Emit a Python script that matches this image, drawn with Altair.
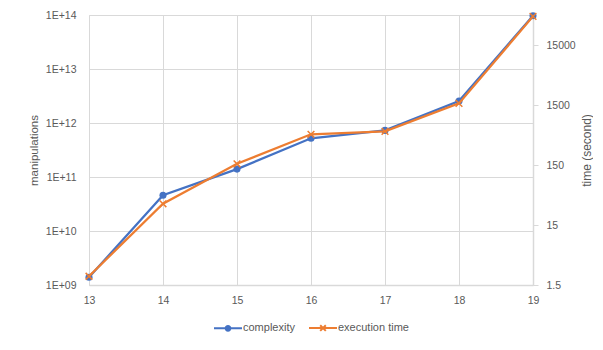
import altair as alt
import pandas as pd

n_values = [13, 14, 15, 16, 17, 18, 19]
complexity = [1.39e9, 4.6e10, 1.4e11, 5.2e11, 7.3e11, 2.55e12, 9.7e13]
exec_time = [2.1, 34, 158, 490, 550, 1610, 45500]
left_ticks = [1e9, 1e10, 1e11, 1e12, 1e13, 1e14]
right_ticks = [1.5, 15, 150, 1500, 15000]
series_names = ["complexity", "execution time"]

BLUE = "#4472C4"
ORANGE = "#ED7D31"
XPATH = "M-1,-1L1,1M-1,1L1,-1"
LEG_C = ("M-1,0L1,0"
         "M0.17,0A0.17,0.17,0,1,1,-0.17,0A0.17,0.17,0,1,1,0.17,0"
         "M0.09,0A0.09,0.09,0,1,1,-0.09,0A0.09,0.09,0,1,1,0.09,0"
         "M0.03,0A0.03,0.03,0,1,1,-0.03,0A0.03,0.03,0,1,1,0.03,0")
LEG_T = "M-1,0L1,0M-0.2,-0.2L0.2,0.2M-0.2,0.2L0.2,-0.2"
TXT = "#595959"
GRID = "#D9D9D9"

df_c = pd.DataFrame({"n": n_values, "v": complexity, "series": series_names[0]})
df_t = pd.DataFrame({"n": n_values, "v": exec_time, "series": series_names[1]})

legend = alt.Legend(
    title=None, orient="none", direction="horizontal", legendX=124, legendY=298,
    labelFontSize=11, labelColor=TXT, symbolSize=784, symbolStrokeWidth=2,
    symbolOpacity=1, labelOffset=0, columnPadding=10,
)
color = alt.Color("series:N", scale=alt.Scale(domain=series_names, range=[BLUE, ORANGE]),
                  legend=legend)
shape = alt.Shape("series:N", scale=alt.Scale(domain=series_names, range=[LEG_C, LEG_T]),
                  legend=legend)

x = alt.X("n:Q", scale=alt.Scale(domain=[13, 19], nice=False),
          axis=alt.Axis(title=None, values=n_values, format="d", grid=True, gridColor=GRID,
                        domainColor=GRID, domainWidth=1.5, ticks=False, labelColor=TXT,
                        labelFontSize=10.5, labelPadding=10, labelFlush=False))

y_left = alt.Y("v:Q", scale=alt.Scale(type="log", domain=[1e9, 1e14], nice=False),
               axis=alt.Axis(title="manipulations", orient="left", values=left_ticks,
                             labelExpr="'1E+' + (round(log(datum.value)/LN10) < 10 ? '0' : '') + round(log(datum.value)/LN10)",
                             grid=True, gridColor=GRID, domain=False, ticks=False,
                             labelColor=TXT, titleColor=TXT, labelFontSize=10.5, titleFontSize=11.5,
                             titleFontWeight="normal", labelPadding=13, titlePadding=6))
y_right = alt.Y("v:Q", scale=alt.Scale(type="log", domain=[1.5, 48000], nice=False),
                axis=alt.Axis(title="time (second)", orient="right", values=right_ticks,
                              format="~g", grid=False, domainColor=GRID, domainWidth=1.5,
                              tickColor=GRID, tickSize=5, labelColor=TXT, titleColor=TXT,
                              labelFontSize=10.5, titleFontSize=12, titleFontWeight="normal",
                              labelPadding=8, titlePadding=18, titleAngle=270))

left = alt.Chart(df_c).encode(x=x, y=y_left)
left_layer = alt.layer(
    left.mark_line(strokeWidth=2.25, color=BLUE),
    left.mark_point(filled=True, size=50, opacity=1, shape="circle", color=BLUE),
    left.mark_point(filled=False, opacity=0).encode(color=color, shape=shape),
)
right = alt.Chart(df_t).encode(x=x, y=y_right)
right_layer = alt.layer(
    right.mark_line(strokeWidth=2.25, color=ORANGE),
    right.mark_point(filled=False, size=45, strokeWidth=1.5, opacity=1, shape=XPATH, color=ORANGE),
)

chart = alt.layer(left_layer, right_layer).resolve_scale(y="independent").properties(
    width=444, height=270,
    padding={"left": 20, "top": 2, "right": 0, "bottom": 0},
).configure_view(stroke=None).configure(font="Liberation Sans")

chart.save("out.html", embed_options={"renderer": "svg", "actions": False})
